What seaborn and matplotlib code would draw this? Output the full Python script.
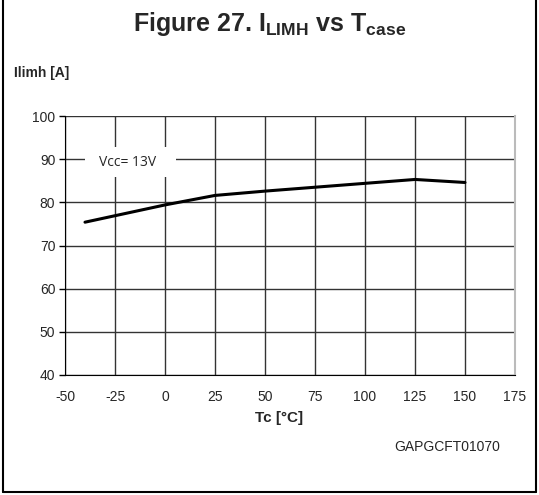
import pandas as pd
import matplotlib.pyplot as plt
import seaborn as sns

# valores
tc = [-40, 0, 25, 50, 75, 100, 125, 150]
ilimh = [75.4, 79.4, 81.6, 82.6, 83.5, 84.4, 85.3, 84.6]
x_ticks = [-50, -25, 0, 25, 50, 75, 100, 125, 150, 175]
y_ticks = [40, 50, 60, 70, 80, 90, 100]

df = pd.DataFrame({"Tc": tc, "Ilimh": ilimh})

sns.set_style("white")
plt.rcParams['font.family'] = ['Liberation Sans', 'DejaVu Sans']
plt.rcParams['axes.unicode_minus'] = False
plt.rcParams['mathtext.fontset'] = 'custom'
plt.rcParams['mathtext.rm'] = 'Liberation Sans'
plt.rcParams['mathtext.bf'] = 'Liberation Sans:bold'

fig = plt.figure(figsize=(5.39, 4.95), dpi=100)
ax = fig.add_axes([65 / 539, 1 - 375 / 495, 450 / 539, 259 / 495])

sns.lineplot(data=df, x="Tc", y="Ilimh", color="black", linewidth=2.2, ax=ax)

ax.set_xlim(-50, 175)
ax.set_ylim(40, 100)
ax.set_xticks(x_ticks)
ax.set_yticks(y_ticks)
ax.grid(True, color="#333333", linewidth=1)
ax.set_xlabel("")
ax.set_ylabel("")
ax.tick_params(axis="y", length=4, width=1, color="black", labelsize=10, pad=3, left=True)
ax.tick_params(axis="x", length=0, labelsize=10, pad=11)
ax.spines["top"].set_visible(False)
ax.spines["right"].set_color("#bbbbbb")
ax.spines["right"].set_linewidth(1.5)
ax.spines["left"].set_color("black")
ax.spines["bottom"].set_color("black")

# caixa branca da legenda Vcc
ax.add_patch(plt.Rectangle((-40, 85.9), 45.5, 6.9, facecolor="white", edgecolor="none", zorder=1.5))
ax.text(-18.5, 89.2, "Vcc= 13V", fontsize=10, family="Open Sans", ha="center", va="center", zorder=3)

fig.text(0.5, 1 - 24 / 495, r"Figure 27. I$_{\mathbf{LIMH}}$ vs T$_{\mathbf{case}}$",
         ha="center", va="center", fontsize=18, fontweight="bold")
fig.text(14 / 539, 1 - 73 / 495, "Ilimh [A]", ha="left", va="center", fontsize=10, fontweight="bold")
fig.text(279 / 539, 1 - 418 / 495, "Tc [°C]", ha="center", va="center", fontsize=11, fontweight="bold")
fig.text(447 / 539, 1 - 447 / 495, "GAPGCFT01070", ha="center", va="center", fontsize=10)

# moldura da figura
fig.add_artist(plt.Line2D([3 / 539, 3 / 539], [0.006, 1], color="black", linewidth=1.5, transform=fig.transFigure))
fig.add_artist(plt.Line2D([536 / 539, 536 / 539], [0.006, 1], color="black", linewidth=1.5, transform=fig.transFigure))
fig.add_artist(plt.Line2D([3 / 539, 536 / 539], [0.006, 0.006], color="black", linewidth=1.5, transform=fig.transFigure))

fig.savefig("out.png", dpi=100)
plt.close()
